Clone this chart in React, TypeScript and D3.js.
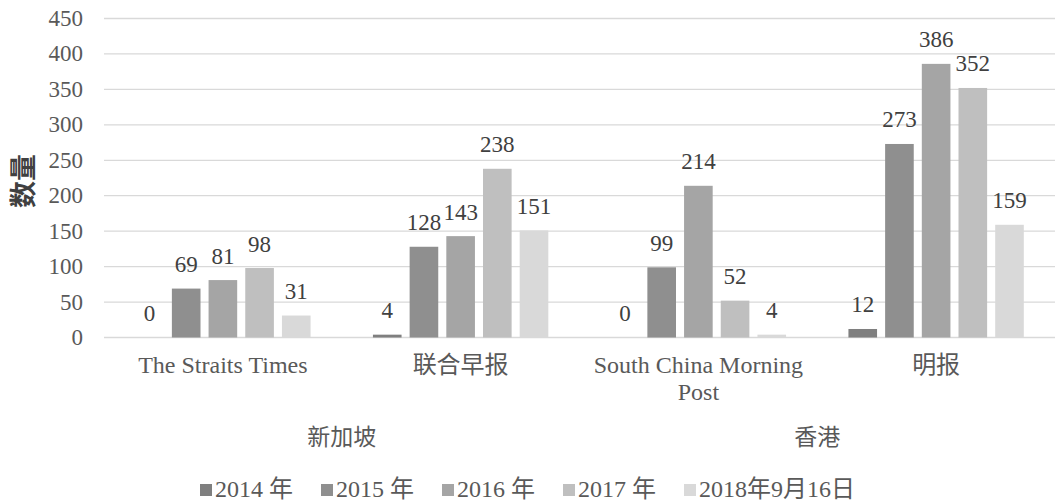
import React, { useEffect, useRef } from "react";
import * as d3 from "d3";

// categories (newspapers) and their region groups
const papers = ["The Straits Times", "联合早报", "South China Morning Post", "明报"];
const regions = ["新加坡", "香港"];
const regionOf = ["新加坡", "新加坡", "香港", "香港"];

const seriesNames = ["2014 年", "2015 年", "2016 年", "2017 年", "2018年9月16日"];
const seriesColors = ["#7f7f7f", "#8f8f8f", "#a5a5a5", "#bfbfbf", "#d9d9d9"];

// values per series, in paper order
const v2014 = [0, 4, 0, 12];
const v2015 = [69, 128, 99, 273];
const v2016 = [81, 143, 214, 386];
const v2017 = [98, 238, 52, 352];
const v2018 = [31, 151, 4, 159];
const seriesValues = [v2014, v2015, v2016, v2017, v2018];

const yTicks = [0, 50, 100, 150, 200, 250, 300, 350, 400, 450];

const W = 1055;
const H = 502;

const App = () => {
  const ref = useRef<SVGSVGElement>(null);

  useEffect(() => {
    const svg = d3.select(ref.current);
    svg.selectAll("*").remove();

    const margin = { top: 18.5, right: 0, bottom: 164.5, left: 104 };
    const innerW = W - margin.left - margin.right;
    const innerH = H - margin.top - margin.bottom;
    const serif = "Liberation Serif, serif";
    const serifCjk = "Liberation Serif, Noto Sans CJK SC, serif";

    const g = svg.append("g").attr("transform", `translate(${margin.left},${margin.top})`);

    const x0 = d3.scaleBand().domain(papers).range([0, innerW]);
    const x1 = d3
      .scaleBand()
      .domain(seriesNames)
      .range([0, x0.bandwidth()])
      .paddingInner(0.22)
      .paddingOuter(0.85);
    const y = d3.scaleLinear().domain([0, 450]).range([innerH, 0]);

    // gridlines
    g.selectAll("line.grid")
      .data(yTicks)
      .join("line")
      .attr("class", "grid")
      .attr("x1", 0)
      .attr("x2", innerW)
      .attr("y1", (d) => y(d))
      .attr("y2", (d) => y(d))
      .attr("stroke", "#d9d9d9")
      .attr("stroke-width", 1.3);

    // y tick labels
    g.selectAll("text.ytick")
      .data(yTicks)
      .join("text")
      .attr("class", "ytick")
      .attr("x", -21)
      .attr("y", (d) => y(d) + 7.5)
      .attr("text-anchor", "end")
      .attr("font-family", serif)
      .attr("font-size", 23)
      .attr("fill", "#595959")
      .text((d) => d);

    // bars + labels
    seriesNames.forEach((s, si) => {
      const vals = seriesValues[si];
      const sg = g.append("g");
      sg.selectAll("rect")
        .data(vals)
        .join("rect")
        .attr("x", (d, i) => (x0(papers[i]) as number) + (x1(s) as number))
        .attr("width", x1.bandwidth())
        .attr("y", (d) => y(d))
        .attr("height", (d) => innerH - y(d))
        .attr("fill", seriesColors[si]);
      sg.selectAll("text")
        .data(vals)
        .join("text")
        .attr("x", (d, i) => (x0(papers[i]) as number) + (x1(s) as number) + x1.bandwidth() / 2)
        .attr("y", (d) => y(d) - 16.5)
        .attr("text-anchor", "middle")
        .attr("font-family", serif)
        .attr("font-size", 23)
        .attr("fill", "#404040")
        .text((d) => d);
    });

    // category labels (wrap long ones)
    papers.forEach((p) => {
      const cx = (x0(p) as number) + x0.bandwidth() / 2;
      const lines = p === "South China Morning Post" ? ["South China Morning", "Post"] : [p];
      lines.forEach((ln, li) => {
        g.append("text")
          .attr("x", cx)
          .attr("y", innerH + 35.5 + li * 27)
          .attr("text-anchor", "middle")
          .attr("font-family", serifCjk)
          .attr("font-size", 24)
          .attr("fill", "#595959")
          .text(ln);
      });
    });

    // region labels
    regions.forEach((r) => {
      const idx = papers.filter((p, i) => regionOf[i] === r);
      const a = x0(idx[0]) as number;
      const b = (x0(idx[idx.length - 1]) as number) + x0.bandwidth();
      g.append("text")
        .attr("x", (a + b) / 2)
        .attr("y", innerH + 107.5)
        .attr("text-anchor", "middle")
        .attr("font-family", serifCjk)
        .attr("font-size", 23)
        .attr("fill", "#595959")
        .text(r);
    });

    // y axis title
    svg
      .append("text")
      .attr("transform", `translate(21,${margin.top + innerH / 2 + 3}) rotate(-90)`)
      .attr("text-anchor", "middle")
      .attr("dominant-baseline", "central")
      .attr("font-family", "Noto Sans CJK SC, sans-serif")
      .attr("font-weight", "bold")
      .attr("font-size", 27)
      .attr("fill", "#404040")
      .text("数量");

    // legend
    const leg = svg.append("g").attr("transform", `translate(0,${H - 5})`);
    const items = seriesNames.map((s, i) => {
      const it = leg.append("g");
      it.append("rect")
        .attr("x", 0)
        .attr("y", -13)
        .attr("width", 12)
        .attr("height", 12)
        .attr("fill", seriesColors[i]);
      const t = it
        .append("text")
        .attr("x", 15)
        .attr("y", 0)
        .attr("font-family", serifCjk)
        .attr("font-size", 24)
        .attr("fill", "#595959")
        .text(s);
      const w = 15 + (t.node() as SVGTextElement).getComputedTextLength();
      return { it, w };
    });
    const gap = 28;
    const total = d3.sum(items, (d) => d.w) + gap * (items.length - 1);
    let cur = W / 2 - total / 2;
    items.forEach((d) => {
      d.it.attr("transform", `translate(${cur},0)`);
      cur += d.w + gap;
    });
  }, []);

  return (
    <svg
      ref={ref}
      width={W}
      height={H}
      style={{ position: "absolute", left: 0, top: 0, background: "#fff" }}
    />
  );
};

export default App;
